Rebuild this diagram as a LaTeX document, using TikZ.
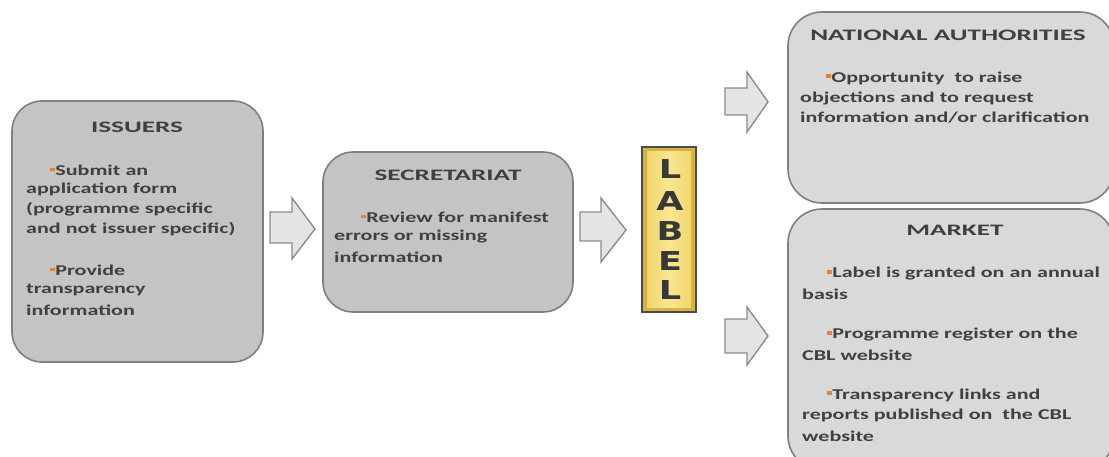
\documentclass[tikz,border=0pt]{standalone}
\usepackage{fontspec}
\setmainfont{Carlito}
\newfontfamily\ttlfont{Carlito}[FakeStretch=1.7, BoldFeatures={FakeStretch=1.7}]
\newfontfamily\bdyfont{Carlito}[FakeStretch=1.47, BoldFeatures={FakeStretch=1.47}]
\newfontfamily\lblfont{DejaVu Sans}[FakeStretch=1.35, BoldFeatures={FakeStretch=1.35}]
\definecolor{txt}{HTML}{404040}
\definecolor{boxA}{HTML}{C4C4C4}
\definecolor{boxB}{HTML}{D9D9D9}
\definecolor{edge}{HTML}{7F7F7F}
\definecolor{arrfill}{HTML}{E4E4E4}
\definecolor{arredge}{HTML}{8C8C8C}
\definecolor{bul}{HTML}{ED7D31}
\definecolor{goldA}{HTML}{D6B245}
\definecolor{goldB}{HTML}{F8E690}
\definecolor{goldC}{HTML}{F0D66E}
\newcommand{\bu}{{\color{bul}\rule[0.25em]{0.3em}{0.26em}}\hspace{0.05em}}
\tikzset{
  panel/.style={draw=edge, line width=1.6pt, rounded corners=30pt},
  ttl/.style={font=\ttlfont\bfseries\fontsize{16}{18}\selectfont, text=txt, inner sep=0pt},
  bdy/.style={font=\bdyfont\bfseries\fontsize{15}{20}\selectfont, text=txt, inner sep=0pt, anchor=west, align=left},
  blockarr/.style={fill=arrfill, draw=arredge, line width=1.4pt, line join=miter},
  lbl/.style={font=\lblfont\bfseries\fontsize{26}{26}\selectfont, text=black!78, inner sep=0pt}
}
\begin{document}
\begin{tikzpicture}[x=1pt,y=-1pt]
\useasboundingbox (0,0) rectangle (1109,457);
% panels
\draw[panel, fill=boxA] (12,101) rectangle (263,362);
\draw[panel, fill=boxA] (323,152) rectangle (573,312);
\draw[panel, fill=boxB, rounded corners=34pt] (788,12) rectangle (1114,203);
\draw[panel, fill=boxB, rounded corners=34pt] (788,209) rectangle (1114,470);
% label box
\fill[goldA] (642,147) rectangle (696,312);
\shade[left color=goldC, right color=goldC, middle color=goldB, shading=axis] (647,152) rectangle (691,307);
\draw[black!70, line width=1.6pt] (642,147) rectangle (696,312);
\node[lbl] (l1) at (670,169) {L};
\node[lbl] (l2) at (670,201) {A};
\node[lbl] (l3) at (670,231) {B};
\node[lbl] (l4) at (670,261) {E};
\node[lbl] (l5) at (670,290) {L};
% block arrows
\draw[blockarr] (270,212) -- (292,212) -- (292,198) -- (315,229) -- (292,259) -- (292,243) -- (270,243) -- cycle;
\draw[blockarr] (580,212) -- (601,212) -- (601,198) -- (626,230) -- (601,262) -- (601,241) -- (580,241) -- cycle;
\draw[blockarr] (725,88) -- (747,88) -- (747,72) -- (768,102) -- (747,132) -- (747,115) -- (725,115) -- cycle;
\draw[blockarr] (725,319) -- (747,319) -- (747,307) -- (768,336) -- (747,365) -- (747,353) -- (725,353) -- cycle;
% ISSUERS
\node[ttl] (t1) at (137,127) {ISSUERS};
\node[bdy] (i1) at (50,170) {\bu Submit an};
\node[bdy] (i2) at (26,189) {application form};
\node[bdy] (i3) at (26,209) {(programme specific};
\node[bdy] (i4) at (26,229) {and not issuer specific)};
\node[bdy] (i5) at (50,270) {\bu Provide};
\node[bdy] (i6) at (26,290) {transparency};
\node[bdy] (i7) at (26,310) {information};
% SECRETARIAT
\node[ttl] (t2) at (448,175) {SECRETARIAT};
\node[bdy] (s1) at (361,217) {\bu Review for manifest};
\node[bdy] (s2) at (334,237) {errors or missing};
\node[bdy] (s3) at (334,257) {information};
% NATIONAL AUTHORITIES
\node[ttl] (t3) at (948,35) {NATIONAL AUTHORITIES};
\node[bdy] (n1) at (826,78) {\bu Opportunity~ to raise};
\node[bdy] (n2) at (800,98) {objections and to request};
\node[bdy] (n3) at (800,118) {information and/or clarification};
% MARKET
\node[ttl] (t4) at (955,230) {MARKET};
\node[bdy] (m1) at (827,274) {\bu Label is granted on an annual};
\node[bdy] (m2) at (802,294) {basis};
\node[bdy] (m3) at (827,335) {\bu Programme register on the};
\node[bdy] (m4) at (802,355) {CBL website};
\node[bdy] (m5) at (827,395) {\bu Transparency links and};
\node[bdy] (m6) at (802,415) {reports published on~ the CBL};
\node[bdy] (m7) at (802,436) {website};
\end{tikzpicture}
\end{document}
